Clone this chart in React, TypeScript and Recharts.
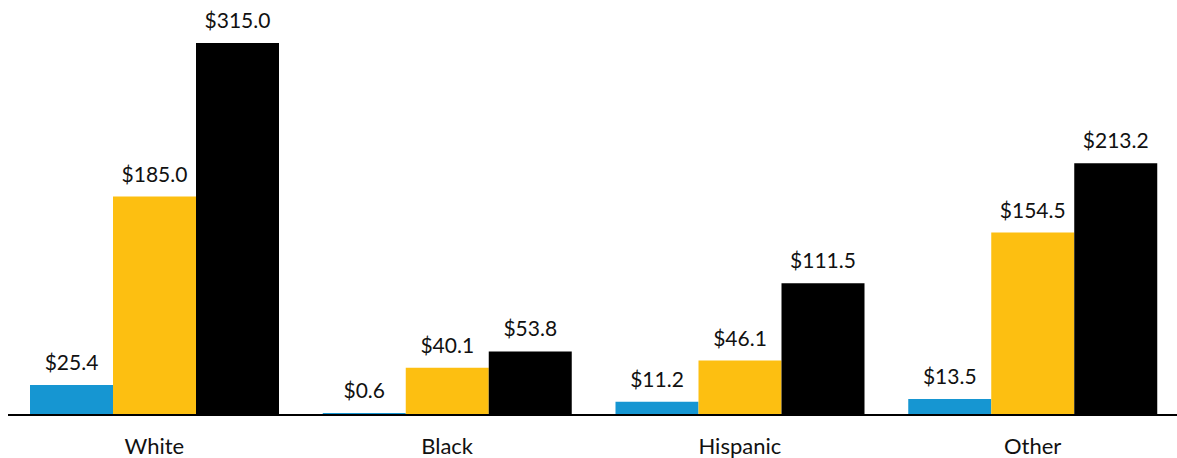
import { BarChart, Bar, XAxis, YAxis, LabelList } from 'recharts';

// Categories and the three series
const categories = ['White', 'Black', 'Hispanic', 'Other'];
const blueValues = [25.4, 0.6, 11.2, 13.5];
const yellowValues = [185.0, 40.1, 46.1, 154.5];
const blackValues = [315.0, 53.8, 111.5, 213.2];

const data = categories.map((name, i) => ({
  name,
  blue: blueValues[i],
  yellow: yellowValues[i],
  black: blackValues[i],
}));

const FONT = 'Lato, "Open Sans", sans-serif';

const money = (v: any) => `$${Number(v).toFixed(1)}`;

const labelStyle = { fontSize: 21, fill: '#111', fontFamily: FONT };

export default function App() {
  return (
    <div style={{ width: 1177, height: 458, overflow: 'hidden', position: 'relative' }}>
      <style>{'body{margin:0;overflow:hidden}'}</style>
      <BarChart
        width={1179}
        height={458}
        data={data}
        margin={{ top: 43, right: 0, left: 8, bottom: 0 }}
        barGap={0}
        barCategoryGap={20}
      >
        <XAxis
          dataKey="name"
          height={43}
          axisLine={{ stroke: '#000', strokeWidth: 2 }}
          tickLine={false}
          tickSize={0}
          tickMargin={23}
          tick={{ fontSize: 22, fill: '#111', fontFamily: FONT }}
        />
        <YAxis hide domain={[0, 315]} />
        {/* tiny values (e.g. $0.6) still show as a thin sliver above the axis */}
        <Bar dataKey="blue" fill="#1696d2" barSize={83} minPointSize={2} isAnimationActive={false}>
          <LabelList dataKey="blue" position="top" offset={15} formatter={money} style={labelStyle} />
        </Bar>
        <Bar dataKey="yellow" fill="#fdbf11" barSize={83} isAnimationActive={false}>
          <LabelList dataKey="yellow" position="top" offset={15} formatter={money} style={labelStyle} />
        </Bar>
        <Bar dataKey="black" fill="#000000" barSize={83} isAnimationActive={false}>
          <LabelList dataKey="black" position="top" offset={15} formatter={money} style={labelStyle} />
        </Bar>
      </BarChart>
    </div>
  );
}
